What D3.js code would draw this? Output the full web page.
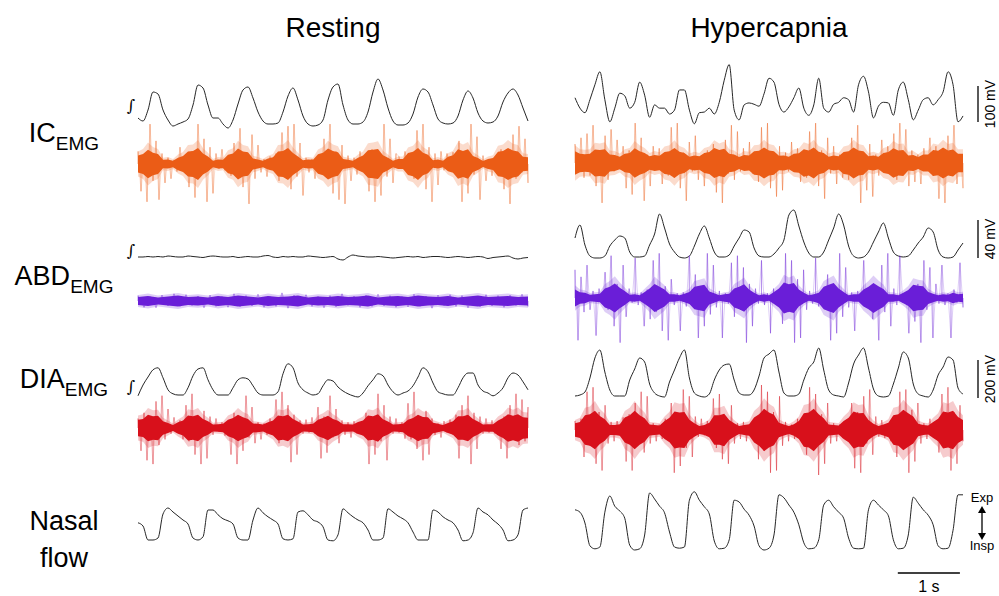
<!DOCTYPE html>
<html>
<head>
<meta charset="utf-8">
<script src="https://cdn.jsdelivr.net/npm/d3@7"></script>
<style>
  body { margin: 0; background: #fff; }
  text { font-family: "Liberation Sans", Arial, Helvetica, sans-serif; fill: #000; }
</style>
</head>
<body>
<svg id="fig" width="999" height="596"></svg>
<script>
// seconds of recording shown in each panel
var seconds = 6.25;

// integrated EMG (a.u., 0 = trough, 100 = peak), sampled every ~0.08 s
var restICInt = [18,12,34,70,66,34,14,2,6,10,16,44,84,78,44,18,18,6,-2,14,46,74,80,58,30,12,6,6,8,30,
  62,78,54,22,6,2,4,14,54,80,86,44,14,6,6,10,30,70,96,74,38,12,4,4,8,26,60,76,70,44,
  16,8,6,8,22,54,72,58,28,12,8,10,22,50,68,76,64,38,12];
var hypICInt = [45,29,22,42,65,85,42,8,29,52,48,29,38,69,49,15,34,29,29,20,26,57,57,26,5,22,23,29,20,38,
  72,96,26,11,34,37,35,32,51,75,69,35,23,31,45,60,29,18,34,75,29,23,35,38,45,42,23,65,78,54,
  14,32,38,37,18,57,69,42,11,26,42,45,34,42,54,85,65,8,17];
var restABDInt = [4,4,5,4,5,4,6,5,4,4,6,5,4,3,5,6,5,4,4,5,3,4,5,4,4,6,7,4,3,5,
  4,5,4,4,6,5,4,3,4,5,0,-2,4,8,6,5,4,4,5,4,3,2,3,4,5,4,5,3,4,5,
  5,4,3,4,5,4,3,4,5,4,1,3,4,5,6,2,0,2,3];
var hypABDInt = [40,66,26,4,0,0,4,24,36,44,40,12,2,2,4,26,48,88,60,28,12,2,0,4,24,48,64,40,12,2,
  2,6,24,40,56,52,20,4,2,2,8,20,36,86,96,64,32,10,2,2,12,36,60,88,66,24,4,0,2,12,
  32,52,70,40,12,4,2,4,16,30,42,60,52,16,2,0,2,16,30];
var restDIAInt = [3,30,50,68,73,48,18,8,5,5,23,53,70,73,43,18,5,5,5,23,43,48,45,28,10,5,5,5,13,58,
  83,73,35,18,10,5,8,28,43,40,25,15,8,3,0,10,28,43,58,53,30,13,5,10,15,28,50,73,63,35,
  13,8,5,5,23,48,60,60,30,15,10,3,10,23,48,60,55,38,18];
var hypDIAInt = [2,4,10,38,78,94,50,14,2,2,2,34,56,78,70,26,8,2,0,30,54,78,94,38,8,2,0,6,34,54,
  64,66,34,8,4,4,14,42,78,86,94,50,8,2,2,6,34,58,70,98,54,14,4,2,0,28,66,84,98,58,
  16,2,0,2,26,58,90,78,26,6,2,0,14,44,60,80,74,18,6];

// nasal flow (a.u., 0 = inspiration, 100 = expiration)
var restNasal = [48,40,5,5,10,70,85,75,65,55,45,10,5,13,80,80,68,58,53,45,10,5,5,55,85,73,63,55,45,8,
  5,8,75,78,68,55,50,38,5,3,18,83,73,63,55,48,30,5,5,10,83,75,65,58,48,25,5,5,5,80,
  75,63,55,48,30,3,5,23,85,75,68,55,45,30,3,5,18,80,85];
var hypNasal = [67,63,45,7,2,5,63,90,73,65,53,8,0,2,25,95,85,73,62,30,5,3,5,83,97,83,72,60,15,2,
  3,17,83,80,68,58,40,7,0,3,25,92,87,75,63,42,12,2,3,17,75,83,72,63,53,20,3,2,3,67,
  83,75,67,57,17,2,3,25,88,78,67,58,42,7,2,3,33,92,92];

// raw EMG: spike samples (signed) and dense core half-amplitude
var restICSpikes = [30,-65,20,-90,95,-40,55,-85,25,-45, 15,-35,10,-18,40,-12,20,
  -55,30,-80,95,-25,60,-90,40,-70,25, -12,35,-15,10,-28,
  50,-30,85,-55,20,-95,70,-35,45,-20, 12,-30,18,-10,25,
  -40,75,-20,90,-60,95,-30,50,-75,15, -20,12,-35,18,-10,
  60,-25,95,-70,30,-85,45,-95,20,-40, 15,-25,30,-12,20,
  -65,35,-90,20,-75,95,-30,60,-45,25, 18,-12,30,-20,10,
  -35,80,-20,95,-60,40,-90,25,-50,30, -15,25,-10,28,-18,
  55,-90,30,-70,95,-25,65,-85,20,-40, 12,-28,15,-20,35,
  -60,25,-95,70,-35,90,-20,60,-45];
var restICCore = [20,24,34,27,24,10,11,8,15,19,30,31,38,25,18,8,11,10,22,25,37,30,28,13,11,8,13,16,30,31,
  38,26,18,9,11,10,23,27,37,31,28,12,10,8,15,20,33,34,36,21,15,8,12,12,26,29,38,27,22,9,
  11,8,17,21,35,31,35,19,14,7,12,14,29,31,38,32,30,17,16];
var hypICSpikes = [45,-20,60,-35,70, -30,90,-55,20,-95,65,-40,80, -20,55,-15,40,-60,
  30,-75,95,-25,60,-90,20,-55,40, -15,35,-50,20,-30,
  85,-35,95,-60,25,-90,50,-20,65, -40,15,-55,30,-20,45,
  -70,30,-95,55,-25,90,-40,75,-20, 35,-15,50,-25,20,
  -45,85,-30,95,-60,20,-80,40,-65,25, -20,50,-15,35,-45,20,
  -35,75,-20,95,-55,30,-85,60,-25,40, -50,20,-35,15,-40,
  60,-30,90,-95,25,-65,45,-80,20, -30,55,-15,40,-25,
  70,-40,95,-25,80,-55,30,-45, 20,-50,35,-15,60,-30,
  40,-85,25,-95,65,-30,90,-50,20,-60];
var hypICCore = [28,22,21,22,32,31,33,20,19,15,22,24,35,28,24,16,19,17,26,28,36,27,24,15,18,16,24,26,36,31,
  34,22,20,14,19,18,28,29,37,30,28,17,18,15,22,23,33,30,37,27,24,15,18,16,26,28,37,30,28,16,
  18,15,24,26,35,30,31,18,19,14,20,20,31,29,37,30,32,22,22];

var restABDSpikes = [12,-14,10,-15,13,-11,16,-12,14,-10,11,-15,13,-12,10,-14,16,-13,12,-11,
  15,-14,10,-12,18,-16,13,-11,14,-12,10,-15,12,-13,16,-10,11,-14,13,-12,
  15,-11,12,-14,10,-13,15,-12,11,-16,13,-10,14,-12,12,-15,10,-13,14,-11,
  12,-14,13,-10,15,-12];
var restABDCore = [9,11,8,10,12,9,10,8,11,9,12,10,8,11,9,10,12,8,10,9,
  11,9,10,12,8,10,11,9,12,10,9,11,8,10,12,9,10,11,9,10];
var hypABDSpikes = [60,-90,45,-30,70,-25, 15,-80,20,-12,
  55,-25,90,-60,30,-95,70,-40, 20,-10,85,-15,12,-60,18,
  -45,80,-30,95,-70,25,-90,40, -15,10,-70,12,-18,90,-10,
  50,-85,25,-60,95,-35,70,-20, 15,-85,10,-12,75,
  -40,90,-25,65,-95,30,-60,20, -12,80,-15,10,-75,20,-10,15,
  -55,95,-30,80,-95,40,-85,60,-25, 15,-12,85,-18,10,-20,
  50,-90,30,-75,95,-40,65,-20, 12,-70,15,-10,80,-12,18,
  -45,25,-90,70,-30,95,-60,20, -15,90,-10,12,-75,15,
  -50,30,-95,80,-25,65,-85,30, -12,70,-15,10,-85,18,-10,75,-20];
var hypABDCore = [18,12,11,7,8,9,20,24,31,22,15,7,8,6,13,20,30,24,18,8,8,6,9,13,24,26,28,14,10,6,
  8,9,20,24,29,18,11,6,8,6,13,20,33,29,32,18,11,6,8,11,24,28,32,20,13,6,8,8,18,24,
  32,25,19,8,8,6,11,17,28,26,25,13,9,6,8,7,11,8,9];

var restDIASpikes = [25,-60,40,-85,30,-95,70,-45,85,-30,50, -15,28,-12,20,-30,
  60,-35,90,-70,25,-95,45,-80,30, -18,25,-10,15,-20,12,
  -70,40,-95,30,-60,85,-25,55,-40, 15,-30,12,-18,25,-12,
  75,-40,95,-25,60,-90,35,-70,20, -15,22,-12,28,-15,
  55,-80,30,-65,85,-25,50,-40,20, -18,15,-25,18,-15,12,-20,
  40,-95,25,-70,90,-35,60,-85,30, -15,25,-12,15,-28,
  65,-30,95,-55,20,-85,45,-70,25, -18,12,-25,18,-12,22,-18,
  35,-80,60,-25,85,-95,40,-55,30, -15,25,-12,20,-15,12,
  -55,30,-80,60,-25,90,-45,75,-35,55];
var restDIACore = [22,24,35,31,32,18,13,8,15,20,33,31,35,24,18,9,10,11,22,26,35,28,24,12,11,9,15,20,33,31,
  35,24,17,9,10,11,22,26,32,24,19,10,10,9,16,20,33,31,36,23,17,9,10,11,22,26,35,29,28,14,
  11,8,13,18,31,31,35,24,17,9,10,10,20,26,36,32,36,28,27];
var hypDIASpikes = [20,-15,25, -60,85,-35,95,-75,40,-90,55,-30, 18,-25,20,-12,28,
  -70,35,-90,60,-25,85,-50,75,-30, 15,-25,12,-20,25,-12,
  60,-95,35,-80,90,-40,75,-60,30, -15,25,-12,20,-18,
  70,-40,80,-65,30,-75,55,-30, 15,-20,18,-25,12,-18,22,
  -65,100,-45,85,-95,40,-90,75,-35, 18,-25,12,-20,25,-12,18,
  -55,95,-40,80,-100,35,-75,60,-30, 15,-25,12,-18,22,-12,
  60,-85,40,-95,75,-30,90,-55,30, -15,22,-18,15,-25,18,
  -60,85,-35,90,-95,45,-70,60,-30, 15,-20,25,-15,12,
  -50,80,-30,95,-90,40,-75,55,-25];
var hypDIACore = [15,18,33,35,43,31,24,11,11,13,28,33,43,33,26,12,11,10,20,27,41,39,40,23,15,9,11,16,33,33,
  36,22,15,9,11,13,28,35,47,39,34,16,12,9,13,20,37,39,47,35,26,12,11,10,20,27,41,37,38,22,
  14,9,12,16,33,35,45,37,30,14,11,10,18,25,41,39,43,29,22];

// text
var panelTitles = ["Resting", "Hypercapnia"];
var rowNames = ["IC", "ABD", "DIA"];
var scaleBarMv = [100, 40, 200];

var svg = d3.select("#fig");
var xRest = d3.scaleLinear().domain([0, seconds]).range([138, 528]);
var xHyp = d3.scaleLinear().domain([0, seconds]).range([575, 963]);

var emgColors = {IC: "#eb5c16", ABD: "#6a1ed8", DIA: "#d8101b"};

// smooth traces: integrated EMG and nasal flow
var smoothTraces = [
  {data: restICInt, x: xRest, y: [127, 77]},
  {data: hypICInt, x: xHyp, y: [127, 62]},
  {data: restABDInt, x: xRest, y: [259, 209]},
  {data: hypABDInt, x: xHyp, y: [258, 208]},
  {data: restDIAInt, x: xRest, y: [397, 357]},
  {data: hypDIAInt, x: xHyp, y: [397, 347]},
  {data: restNasal, x: xRest, y: [542, 502]},
  {data: hypNasal, x: xHyp, y: [550, 490]}
];

smoothTraces.forEach(function (t) {
  var y = d3.scaleLinear().domain([0, 100]).range(t.y);
  var dt = seconds / (t.data.length - 1);
  var line = d3.line()
    .x(function (d, i) { return t.x(i * dt); })
    .y(function (d) { return y(d); })
    .curve(d3.curveMonotoneX);
  svg.append("path")
    .attr("d", line(t.data))
    .attr("fill", "none")
    .attr("stroke", "#262626")
    .attr("stroke-width", 1);
});

// raw EMG traces
var emgTraces = [
  {spikes: restICSpikes, core: restICCore, x: xRest, mid: 164, half: 42, row: "IC"},
  {spikes: hypICSpikes, core: hypICCore, x: xHyp, mid: 163, half: 42, row: "IC"},
  {spikes: restABDSpikes, core: restABDCore, x: xRest, mid: 301, half: 45, row: "ABD"},
  {spikes: hypABDSpikes, core: hypABDCore, x: xHyp, mid: 298, half: 47, row: "ABD"},
  {spikes: restDIASpikes, core: restDIACore, x: xRest, mid: 428, half: 38, row: "DIA"},
  {spikes: hypDIASpikes, core: hypDIACore, x: xHyp, mid: 430, half: 45, row: "DIA"}
];

emgTraces.forEach(function (t) {
  var y = d3.scaleLinear().domain([-100, 100]).range([t.mid + t.half, t.mid - t.half]);
  // wider, lighter band where the dense spikes overlap
  var yHalo = d3.scaleLinear().domain([-100, 100]).range([t.mid + t.half * 1.5, t.mid - t.half * 1.5]);
  var dtS = seconds / (t.spikes.length - 1);
  var dtC = seconds / (t.core.length - 1);
  var col = emgColors[t.row];
  var g = svg.append("g");

  g.append("path")
    .attr("d", d3.area()
      .x(function (d, i) { return t.x(i * dtC); })
      .y0(function (d) { return yHalo(-d); })
      .y1(function (d) { return yHalo(d); })(t.core))
    .attr("fill", col)
    .attr("fill-opacity", 0.22);

  // raw signal drawn through the spike samples
  g.append("path")
    .attr("d", d3.line()
      .x(function (d, i) { return t.x(i * dtS); })
      .y(function (d) { return y(d); })(t.spikes))
    .attr("fill", "none")
    .attr("stroke", col)
    .attr("stroke-opacity", 0.28)
    .attr("stroke-width", 0.8);

  // individual spikes
  g.selectAll("line")
    .data(t.spikes)
    .enter()
    .append("line")
    .attr("x1", function (d, i) { return t.x(i * dtS); })
    .attr("x2", function (d, i) { return t.x(i * dtS); })
    .attr("y1", y(0))
    .attr("y2", function (d) { return y(d); })
    .attr("stroke", col)
    .attr("stroke-opacity", 0.5)
    .attr("stroke-width", 1);

  // dense core
  g.append("path")
    .attr("d", d3.area()
      .x(function (d, i) { return t.x(i * dtC); })
      .y0(function (d) { return y(-d); })
      .y1(function (d) { return y(d); })(t.core))
    .attr("fill", col);
});

// titles
svg.selectAll(".title")
  .data(panelTitles)
  .enter()
  .append("text")
  .attr("class", "title")
  .attr("x", function (d, i) { var x = i ? xHyp : xRest; return (x.range()[0] + x.range()[1]) / 2; })
  .attr("y", 37)
  .attr("text-anchor", "middle")
  .attr("font-size", 28)
  .text(function (d) { return d; });

// row labels with EMG subscript
var labelY = [142, 285, 388];
rowNames.forEach(function (name, i) {
  var t = svg.append("text")
    .attr("x", 64)
    .attr("y", labelY[i])
    .attr("text-anchor", "middle")
    .attr("font-size", 27);
  t.append("tspan").text(name);
  t.append("tspan").attr("font-size", 19).attr("dy", 8).text("EMG");
});
svg.append("text").attr("x", 64).attr("y", 530).attr("text-anchor", "middle")
  .attr("font-size", 27).text("Nasal");
svg.append("text").attr("x", 64).attr("y", 567).attr("text-anchor", "middle")
  .attr("font-size", 27).text("flow");

// integral marks
[105, 250, 386].forEach(function (yy) {
  svg.append("text")
    .attr("x", 131).attr("y", yy)
    .attr("text-anchor", "middle")
    .attr("dominant-baseline", "central")
    .attr("font-size", 16)
    .style("font-family", "'DejaVu Serif', serif")
    .text("\u222B");
});

// amplitude scale bars
var barGain = [0.36, 0.95, 0.19]; // px per mV in each row
var barBottom = [122, 258, 398];
scaleBarMv.forEach(function (mv, i) {
  var len = mv * barGain[i];
  svg.append("line")
    .attr("x1", 978).attr("x2", 978)
    .attr("y1", barBottom[i]).attr("y2", barBottom[i] - len)
    .attr("stroke", "#000").attr("stroke-width", 1.3);
  svg.append("text")
    .attr("transform", "translate(995," + (barBottom[i] - len / 2) + ") rotate(-90)")
    .attr("text-anchor", "middle")
    .attr("font-size", 14)
    .text(mv + " mV");
});

// time scale bar (1 s)
svg.append("line")
  .attr("x1", xHyp(5.2)).attr("x2", xHyp(6.2))
  .attr("y1", 573).attr("y2", 573)
  .attr("stroke", "#000").attr("stroke-width", 1.3);
svg.append("text")
  .attr("x", xHyp(5.7)).attr("y", 592)
  .attr("text-anchor", "middle")
  .attr("font-size", 16)
  .text("1 s");

// Exp / Insp arrow
svg.append("text").attr("x", 982).attr("y", 502).attr("text-anchor", "middle")
  .attr("font-size", 13).text("Exp");
svg.append("text").attr("x", 982).attr("y", 550).attr("text-anchor", "middle")
  .attr("font-size", 13).text("Insp");
svg.append("line")
  .attr("x1", 982).attr("x2", 982).attr("y1", 511).attr("y2", 535)
  .attr("stroke", "#000").attr("stroke-width", 1.3);
svg.append("path").attr("d", "M978,513L982,506L986,513Z").attr("fill", "#000");
svg.append("path").attr("d", "M978,533L982,540L986,533Z").attr("fill", "#000");
</script>
</body>
</html>
